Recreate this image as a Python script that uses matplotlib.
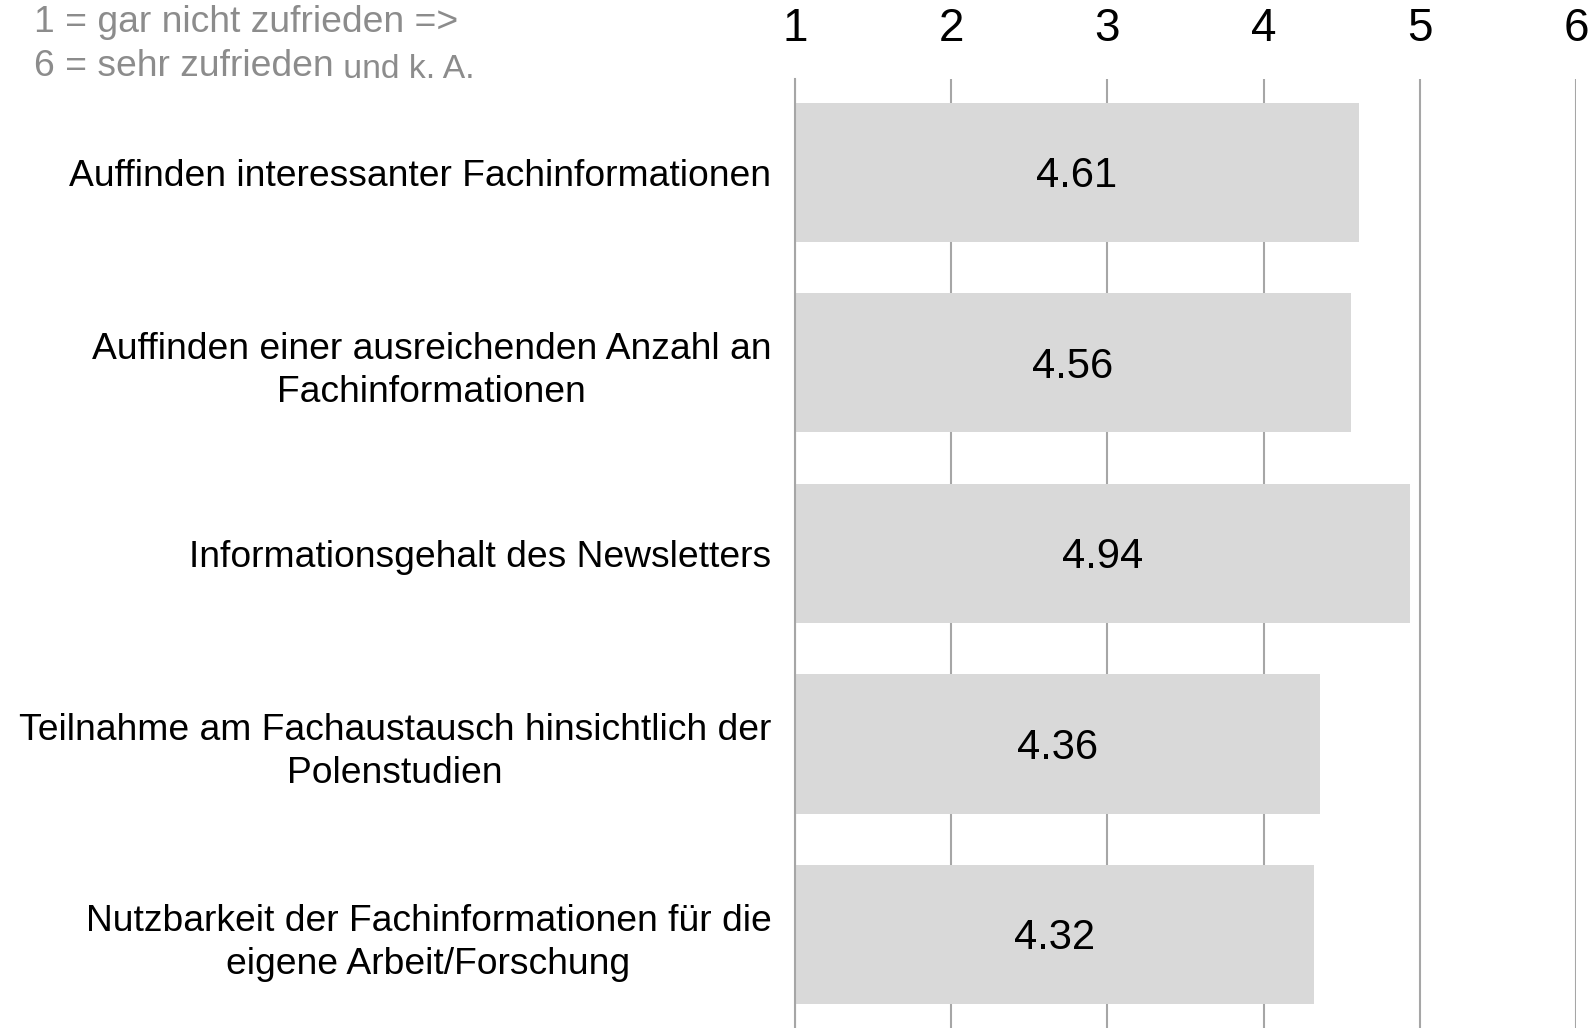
import matplotlib.pyplot as plt

plt.rcParams['font.family'] = ['Liberation Sans', 'DejaVu Sans']

categories = [
    'Auffinden interessanter Fachinformationen',
    'Auffinden einer ausreichenden Anzahl an\nFachinformationen',
    'Informationsgehalt des Newsletters',
    'Teilnahme am Fachaustausch hinsichtlich der\nPolenstudien',
    'Nutzbarkeit der Fachinformationen für die\neigene Arbeit/Forschung',
]
values = [4.61, 4.56, 4.94, 4.36, 4.32]
scale_ticks = [1, 2, 3, 4, 5, 6]

fig = plt.figure(figsize=(15.9, 10.28), dpi=100)
ax = fig.add_axes([0.5, 0.0, 0.4912, 0.9232])

y = range(len(categories))
rects = ax.barh(list(y), [v - 1 for v in values], left=1, height=0.73,
                color='#d9d9d9', zorder=2)

for rect, v in zip(rects, values):
    ax.text(rect.get_x() + rect.get_width() / 2, rect.get_y() + rect.get_height() / 2 + 0.02,
            f'{v:.2f}', ha='center', va='center', fontsize=30, zorder=3)

ax.set_xlim(1, 6)
ax.set_ylim(4.49, -0.49)
ax.xaxis.tick_top()
ax.set_xticks(scale_ticks)
ax.set_xticklabels([str(t) for t in scale_ticks], fontsize=33)
ax.tick_params(axis='x', length=0, pad=20)
ax.grid(axis='x', color='#a6a6a6', lw=1.5, zorder=1)

ax.set_yticks(list(y))
ax.set_yticklabels(categories, fontsize=26.8, multialignment='center', linespacing=1.3)
ax.tick_params(axis='y', length=0, pad=17)

for side in ['top', 'right', 'bottom']:
    ax.spines[side].set_visible(False)
ax.spines['left'].set_color('#a6a6a6')
ax.spines['left'].set_linewidth(1.5)

fig.text(34 / 1590, 1 - 23 / 1028, '1 = gar nicht zufrieden =>', fontsize=26.8,
         color='#8c8c8c', va='center', ha='left')
t = fig.text(34 / 1590, 1 - 67 / 1028, '6 = sehr zufrieden', fontsize=26.8,
             color='#8c8c8c', va='center', ha='left')
fig.canvas.draw()
ax.annotate(' und k. A.', xy=(1, 0), xycoords=t, fontsize=24.2, color='#8c8c8c',
            va='bottom', ha='left', annotation_clip=False)

fig.savefig('out.png', dpi=100)
